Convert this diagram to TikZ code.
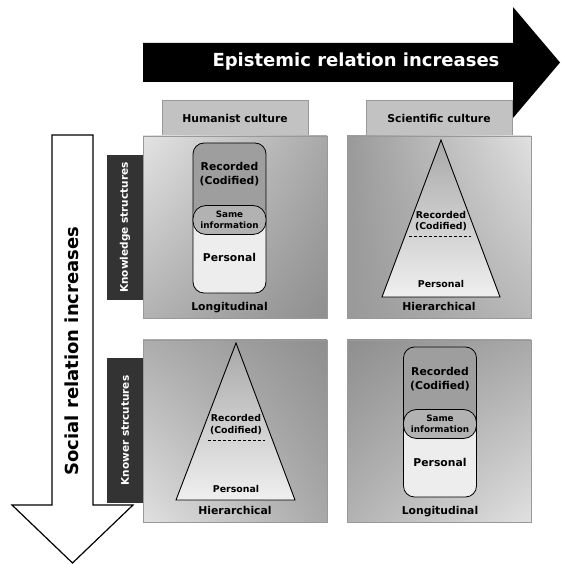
\documentclass[tikz,border=0pt]{standalone}
\usepackage{fontspec}
\setmainfont{DejaVu Sans}
\usetikzlibrary{positioning,calc,shadings}
\newcommand{\bigfont}{\bfseries\fontsize{18}{21}\selectfont}
\newcommand{\midfont}{\bfseries\fontsize{10.8}{13.5}\selectfont}
\newcommand{\smallfont}{\bfseries\fontsize{9.4}{11.5}\selectfont}
\newcommand{\tinyfont}{\bfseries\fontsize{8.8}{10.5}\selectfont}

\tikzset{
	header/.style={draw=black!40, fill=black!24, minimum width=146pt, minimum height=36pt, inner sep=0pt, font=\midfont},
	side/.style={fill=black!80, text=white, rotate=90, minimum width=145pt, minimum height=36pt, inner sep=0pt, font=\bfseries\fontsize{10.5}{12}\selectfont},
	panel/.style={draw=black!40, line width=0.6pt, shade, minimum width=184pt, minimum height=182pt, inner sep=0pt},
	block/.style={draw, line width=0.8pt, rounded corners=11pt, fill=black!7, minimum width=73pt, minimum height=150pt, inner sep=0pt,
		path picture={\fill[black!38] (path picture bounding box.north west) rectangle ([yshift=-2pt]path picture bounding box.east);}},
	sameinfo/.style={draw, line width=0.8pt, rounded corners=13pt, fill=black!30, minimum width=73pt, minimum height=29pt, inner sep=0pt, align=center, font=\tinyfont},
	pyramid/.style={draw, line width=0.9pt, top color=black!34, bottom color=black!6},
	lbl/.style={inner sep=0pt, align=center, font=\midfont},
	tlbl/.style={inner sep=0pt, align=center, font=\smallfont},
}

\begin{document}
\begin{tikzpicture}[x=1pt,y=1pt]
	\useasboundingbox (0,0) rectangle (560,564);

	% the two big arrows
	\fill (143,482) -- (513,482) -- (513,446) -- (560,501.5) -- (513,557) -- (513,521) -- (143,521) -- cycle;
	\node[text=white, font=\bigfont] (epi) at (356,502) {Epistemic relation increases};
	\draw[line width=1.2pt, fill=white] (52,429) -- (93,429) -- (93,59) -- (133,59) -- (72.5,1) -- (12,59) -- (52,59) -- cycle;
	\node[rotate=90, font=\bigfont] (soc) at (72,213) {Social relation increases};

	% columns and rows
	\node[header] (hum) at (235,446) {Humanist culture};
	\node[header] (sci) at (439,446) {Scientific culture};
	\node[side] (kns) at (125,336.5) {Knowledge structures};
	\node[side] (kws) at (125,133.5) {Knower strcutures};

	\node[panel, upper left=black!11, upper right=black!34, lower left=black!30, lower right=black!44] (p11) at (235,337) {};
	\node[panel, upper left=black!40, upper right=black!12, lower left=black!40, lower right=black!28] (p12) at (439,337) {};
	\node[panel, upper left=black!32, upper right=black!44, lower left=black!12, lower right=black!34] (p21) at (235,133) {};
	\node[panel, upper left=black!44, upper right=black!34, lower left=black!30, lower right=black!12] (p22) at (439,133) {};

	% longitudinal, top left
	\node[block] (kblock) at (229.5,346) {};
	\node[sameinfo] (ksame) at ([yshift=-2pt]kblock.center) {Same\\information};
	\node[lbl] (krec) at ([yshift=44pt]kblock.center) {Recorded\\(Codified)};
	\node[lbl] (kpers) at ([yshift=-39pt]kblock.center) {Personal};
	\node[lbl, below=9pt of kblock] (klong) {Longitudinal};

	% hierarchical, top right
	\shade[pyramid] (441,424) -- (500,267) -- (382,267) -- cycle;
	\draw[line width=0.9pt, dash pattern=on 3pt off 2pt] (409,328) -- (471,328);
	\node[tlbl] (srec) at (441,343) {Recorded\\(Codified)};
	\node[tlbl] (spers) at (441,280) {Personal};
	\node[lbl] (shier) at (439,258) {Hierarchical};

	% hierarchical, bottom left
	\shade[pyramid] (236,221) -- (295,64) -- (176,64) -- cycle;
	\draw[line width=0.9pt, dash pattern=on 3pt off 2pt] (208,124) -- (265,124);
	\node[tlbl] (wrec) at (236,139.5) {Recorded\\(Codified)};
	\node[tlbl] (wpers) at (236,75) {Personal};
	\node[lbl] (whier) at (235,54) {Hierarchical};

	% longitudinal, bottom right
	\node[block] (wblock) at (440,142) {};
	\node[sameinfo] (wsame) at ([yshift=-2pt]wblock.center) {Same\\information};
	\node[lbl] (wrec2) at ([yshift=43pt]wblock.center) {Recorded\\(Codified)};
	\node[lbl] (wpers2) at ([yshift=-40pt]wblock.center) {Personal};
	\node[lbl, below=9pt of wblock] (wlong) {Longitudinal};

\end{tikzpicture}
\end{document}
